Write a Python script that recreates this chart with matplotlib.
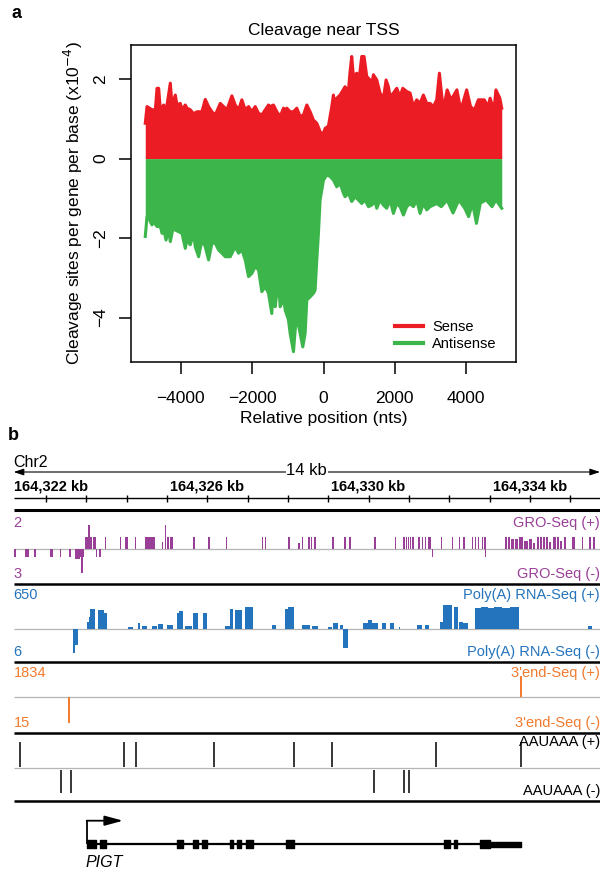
import numpy as np
import matplotlib
matplotlib.use('Agg')
import matplotlib.pyplot as plt
from matplotlib.lines import Line2D

plt.rcParams['font.family'] = ['Liberation Sans', 'DejaVu Sans']

## Panel a: cleavage sites per gene per base (x1e-4) around the TSS
sense_pos = [-5000, -4951, -4811, -4717, -4670, -4624, -4577, -4484, -4437, -4390,
             -4297, -4250, -4157, -4110, -4017, -3970, -3877, -3830, -3737, -3643,
             -3550, -3410, -3317, -3223, -3130, -3036, -2896, -2803, -2710, -2570,
             -2476, -2383, -2290, -2196, -2103, -2010, -1916, -1823, -1730, -1543,
             -1496, -1403, -1309, -1216, -1122, -1076, -1029, -936, -842, -749,
             -655, -562, -468, -375, -282, -188, -95, -20, 45, 138,
             232, 278, 325, 372, 465, 605, 698, 745, 792, 838,
             932, 1007, 1072, 1138, 1213, 1307, 1353, 1400, 1494, 1587,
             1681, 1756, 1821, 1868, 1961, 2055, 2148, 2223, 2335, 2429,
             2522, 2615, 2709, 2802, 2896, 2989, 3083, 3176, 3251, 3360,
             3469, 3578, 3742, 3851, 4016, 4125, 4235, 4344, 4509, 4618,
             4673, 4782, 4837, 4947, 5000]
sense_val = [0.89, 1.31, 1.23, 1.23, 1.77, 1.77, 1.23, 1.35, 1.23, 1.35,
             1.90, 1.35, 1.60, 1.35, 1.39, 1.23, 1.35, 1.27, 1.23, 1.13,
             1.18, 1.18, 1.49, 1.31, 1.18, 1.10, 1.39, 1.31, 1.23, 1.58,
             1.35, 1.23, 1.48, 1.23, 1.31, 1.18, 1.31, 1.14, 1.10, 1.35,
             1.31, 1.35, 1.18, 1.06, 1.27, 1.23, 1.27, 1.18, 1.18, 1.27,
             1.06, 1.10, 1.35, 1.18, 0.97, 0.89, 0.68, 0.60, 0.76, 0.82,
             1.31, 1.60, 1.31, 1.52, 1.60, 1.81, 1.69, 2.19, 2.57, 2.07,
             2.15, 2.07, 2.57, 2.57, 2.07, 1.98, 1.86, 2.11, 1.98, 1.65,
             1.52, 1.98, 1.81, 1.56, 1.65, 1.77, 1.56, 1.77, 1.69, 1.65,
             1.31, 1.48, 1.39, 1.60, 1.39, 1.39, 1.31, 1.48, 2.15, 1.22,
             1.73, 1.48, 1.73, 1.22, 1.73, 1.31, 1.22, 1.48, 1.48, 1.31,
             1.52, 1.22, 1.73, 1.52, 1.27]

anti_pos = [-5000, -4951, -4904, -4857, -4811, -4764, -4670, -4577, -4530, -4456,
            -4418, -4344, -4297, -4204, -4157, -4063, -3970, -3877, -3830, -3737,
            -3643, -3597, -3503, -3410, -3317, -3223, -3130, -3036, -2943, -2850,
            -2756, -2616, -2476, -2383, -2290, -2196, -2103, -2010, -1916, -1823,
            -1730, -1636, -1543, -1450, -1403, -1356, -1309, -1263, -1216, -1169,
            -1122, -1076, -982, -936, -842, -795, -749, -655, -581, -515,
            -468, -375, -282, -235, -188, -142, -95, 0, 93, 185,
            278, 372, 465, 558, 605, 698, 792, 885, 978, 1072,
            1166, 1260, 1353, 1447, 1494, 1587, 1681, 1774, 1868, 1961,
            2055, 2148, 2242, 2335, 2429, 2522, 2615, 2709, 2802, 2896,
            2989, 3176, 3305, 3469, 3633, 3798, 3962, 4071, 4181, 4290,
            4400, 4564, 4728, 4837, 5000]
anti_val = [-1.96, -1.46, -1.46, -1.59, -1.67, -1.59, -1.71, -1.71, -1.88, -1.88,
            -2.05, -1.80, -2.09, -1.67, -1.80, -1.84, -1.88, -2.26, -2.05, -2.17,
            -1.88, -2.22, -2.47, -2.05, -2.22, -2.55, -2.13, -2.13, -2.30, -2.38,
            -2.47, -2.47, -2.22, -2.38, -2.30, -2.55, -2.97, -2.89, -2.72, -2.80,
            -3.35, -3.22, -3.39, -3.90, -3.06, -3.73, -3.39, -3.06, -3.73, -3.64,
            -3.48, -3.81, -4.06, -4.40, -4.86, -4.32, -3.98, -4.40, -4.74, -4.40,
            -3.56, -3.48, -3.39, -3.31, -2.55, -1.88, -1.04, -0.54, -0.41, -0.45,
            -0.54, -0.71, -0.62, -0.87, -0.96, -0.87, -1.08, -0.96, -1.04, -1.13,
            -1.04, -1.21, -1.17, -1.08, -1.25, -1.04, -1.17, -1.25, -1.04, -1.38,
            -1.13, -1.21, -1.42, -1.21, -1.13, -1.21, -1.04, -1.38, -1.13, -1.29,
            -1.21, -1.13, -1.21, -1.04, -1.37, -1.04, -1.25, -1.46, -1.12, -1.63,
            -1.12, -1.04, -1.21, -1.04, -1.25]

## Panel b: browser view of PIGT on chr2 (bp)
ruler_ticks = list(range(164322000, 164336000, 1000))
ruler_labels = [164322000, 164326000, 164330000, 164334000]

gro_plus_start = [164322967, 164323050, 164323156, 164323461, 164323833, 164323957, 164324205,
                  164324453, 164324867, 164324949, 164324998, 164325070, 164325651, 164326023,
                  164326462, 164327355, 164327420, 164328007, 164328255, 164328339, 164328503,
                  164328570, 164328652, 164329098, 164329396, 164329520, 164330140, 164330653,
                  164330859, 164330919, 164330968, 164331025, 164331082, 164331231, 164331315,
                  164331397, 164331479, 164331787, 164332060, 164332241, 164332347, 164332556,
                  164332637, 164332704, 164332803, 164332868,
                  164333382, 164333456, 164333530, 164333629, 164333729, 164333853, 164333977,
                  164334076, 164334175, 164334250, 164334324, 164334399, 164334473, 164334572,
                  164334671, 164334746, 164334845, 164335043, 164335292, 164335465, 164335564]
gro_plus_end = [164323131, 164323080, 164323238, 164323496, 164323868, 164324039, 164324240,
                164324701, 164324902, 164324984, 164325050, 164325147, 164325686, 164326058,
                164326497, 164327390, 164327455, 164328042, 164328290, 164328374, 164328538,
                164328605, 164328687, 164329133, 164329431, 164329555, 164330175, 164330688,
                164330894, 164330954, 164331003, 164331060, 164331117, 164331266, 164331350,
                164331432, 164331546, 164331822, 164332095, 164332276, 164332382, 164332591,
                164332672, 164332739, 164332838, 164332903,
                164333431, 164333506, 164333605, 164333704, 164333828, 164333952, 164334051,
                164334126, 164334225, 164334299, 164334374, 164334448, 164334522, 164334646,
                164334721, 164334795, 164334895, 164335118, 164335328, 164335514, 164335614]
gro_plus_val = [1, 2, 1, 1, 1, 1, 1,
                1, 0.6, 2, 1, 1, 1, 1,
                1, 1, 1, 1, 0.5, 1, 1,
                1, 1, 1, 1, 1, 1, 1,
                1, 1, 1, 1, 1, 1, 1,
                1, 1, 1, 1, 1, 1, 1,
                1, 1, 1, 1,
                1, 1, 0.8, 0.8, 1, 0.7, 0.8,
                0.5, 1, 1, 1, 1, 0.6, 1,
                1, 0.7, 1, 1, 1, 1, 1]
gro_minus_start = [164321210, 164321477, 164321700, 164322097, 164322345, 164322575, 164322717,
                   164322841, 164322870, 164323238, 164323319, 164331563, 164332885]
gro_minus_end = [164321245, 164321583, 164321750, 164322164, 164322380, 164322610, 164322841,
                 164322940, 164322905, 164323273, 164323354, 164331598, 164332920]
gro_minus_val = [-1, -1, -1, -1, -1, -1, -1.2, -1, -3, -1, -1, -1, -1]

polya_plus_start = [164323022, 164323064, 164323101, 164323295, 164323436, 164324039, 164324272,
                    164324371, 164324619, 164324783, 164324991, 164325239, 164325296, 164325445,
                    164325636, 164325884, 164326437, 164326561, 164326685, 164326933, 164327595,
                    164327925, 164328007, 164328339, 164328602, 164328984, 164329123, 164329289,
                    164329867, 164329991, 164330090, 164330323, 164330529, 164330752, 164331206,
                    164331397, 164331769, 164331851, 164332124, 164332241, 164332340, 164332637,
                    164332800, 164332950, 164333100, 164333300, 164333500, 164335440]
polya_plus_end = [164323064, 164323101, 164323220, 164323436, 164323518, 164324163, 164324329,
                  164324495, 164324743, 164324907, 164325140, 164325296, 164325403, 164325611,
                  164325775, 164325998, 164326561, 164326628, 164326851, 164327124, 164327694,
                  164328007, 164328156, 164328545, 164328751, 164329083, 164329247, 164329371,
                  164329991, 164330075, 164330224, 164330423, 164330636, 164330780, 164331315,
                  164331497, 164331851, 164332060, 164332223, 164332340, 164332471, 164332800,
                  164332950, 164333100, 164333300, 164333500, 164333741, 164335539]
polya_plus_val = [208, 343, 542, 524, 451, 54, 181,
                  90, 90, 135, 117, 434, 506, 90,
                  451, 451, 90, 542, 524, 596, 117,
                  542, 614, 117, 99, 72, 162, 117,
                  162, 253, 162, 162, 162, 54, 126,
                  126, 208, 650, 596, 208, 162, 580,
                  610, 590, 600, 585, 595, 90]
polya_minus_start = [164322660, 164322717, 164329371]
polya_minus_end = [164322717, 164322800, 164329480]
polya_minus_val = [-6, -4, -4.75]

end3_plus_pos = [164333791]
end3_plus_val = [1834]
end3_minus_pos = [164322580]
end3_minus_val = [-15]

aauaaa_plus = [164321360, 164323927, 164324227, 164326164, 164328142, 164329101, 164331668, 164333771]
aauaaa_minus = [164322377, 164322610, 164330127, 164330884, 164330991]

pigt_tx = [164323022, 164333791]
pigt_exon_start = [164323007, 164323327, 164325246, 164325653, 164325874, 164326554,
                   164326747, 164326958, 164327957, 164331871, 164332114, 164332774]
pigt_exon_end = [164323230, 164323493, 164325390, 164325767, 164325991, 164326640,
                 164326844, 164327124, 164328142, 164332017, 164332191, 164333014]
pigt_utr = [164333014, 164333791]

RED = '#ec1c24'
GREEN = '#3cb54a'
PURPLE = '#9a3f98'
BLUE = '#2474bd'
ORANGE = '#f37a2e'
GREY = '#b5b5b5'

W, H = 612.0, 876.0
def px_rect(x0, y0, x1, y1):
    return [x0 / W, 1 - y1 / H, (x1 - x0) / W, (y1 - y0) / H]

fig = plt.figure(figsize=(6.12, 8.76), dpi=100)

# ---- panel a
ax = fig.add_axes(px_rect(131, 45, 516, 362))
ax.fill_between(sense_pos, 0, sense_val, color=RED, lw=0)
ax.plot(sense_pos, sense_val, color=RED, lw=2.2)
ax.fill_between(anti_pos, 0, anti_val, color=GREEN, lw=0)
ax.plot(anti_pos, anti_val, color=GREEN, lw=2.2)
ax.set_xlim(-5400, 5400)
ax.set_ylim(-5.12, 2.86)
ax.set_xticks([-4000, -2000, 0, 2000, 4000])
ax.set_yticks([-4, -2, 0, 2])
for s in ax.spines.values():
    s.set_linewidth(1.1)
ax.tick_params(axis='x', length=8.6, width=1.1, pad=12, labelsize=12.5)
ax.tick_params(axis='y', length=8.6, width=1.1, pad=8, labelsize=12.5)
for lbl in ax.get_yticklabels():
    lbl.set_rotation(90)
    lbl.set_va('center')
ax.set_title('Cleavage near TSS', fontsize=12.5, pad=7)
ax.set_xlabel('Relative position (nts)', fontsize=12.5)
ax.xaxis.set_label_coords(0.5, -0.155)
ax.set_ylabel(r'Cleavage sites per gene per base (x10$^{-4}$)', fontsize=12.5)
ax.yaxis.set_label_coords(-0.12, 0.5)
handles = [Line2D([], [], color=RED, lw=3), Line2D([], [], color=GREEN, lw=3)]
ax.legend(handles, ['Sense', 'Antisense'], loc='lower right', frameon=False,
          bbox_to_anchor=(0.965, 0.015), borderaxespad=0, fontsize=10.5,
          handlelength=1.9, handletextpad=0.65, labelspacing=0.2)

fig.text(11 / W, 1 - 13 / H, 'a', fontsize=13, weight='bold', va='center')
fig.text(8 / W, 1 - 435 / H, 'b', fontsize=13, weight='bold', va='center')

# ---- panel b
KB_LO, KB_HI = 164321196, 164335740
bax = fig.add_axes(px_rect(13.7, 440, 600, 876))
bax.set_xlim(KB_LO, KB_HI)
bax.set_ylim(876, 440)
bax.axis('off')
tr = bax.get_yaxis_transform()

bax.annotate('', xy=(KB_HI, 472), xytext=(KB_LO, 472),
             arrowprops=dict(arrowstyle='<|-|>,head_length=0.6,head_width=0.2', mutation_scale=10,
                             lw=0.8, color='black', shrinkA=0, shrinkB=0))
bax.text(0.5, 471, '14 kb', transform=tr, ha='center', va='center', fontsize=12,
         bbox=dict(facecolor='white', edgecolor='none', pad=0.3))
bax.text(0, 463, 'Chr2', transform=tr, ha='left', va='center', fontsize=11.5)
bax.hlines(498.3, KB_LO, KB_HI, lw=1, color='black')
bax.vlines(ruler_ticks, 495, 501.7, lw=1, color='black')
for i, bp in enumerate(ruler_labels):
    lab = '{:,} kb'.format(bp // 1000)
    if i == 0:
        bax.text(KB_LO, 486.7, lab, ha='left', va='center', fontsize=10.5, weight='bold')
    else:
        bax.text(bp, 486.7, lab, ha='center', va='center', fontsize=10.5, weight='bold')

bax.hlines([510.5], KB_LO, KB_HI, lw=2.2, color='black')
bax.hlines([584.3, 662.3, 732.7, 801], KB_LO, KB_HI, lw=1.8, color='black')
bax.hlines([549, 629.3, 697, 768.3], KB_LO, KB_HI, lw=0.9, color=GREY)

def signal_axes(y0, y1, lo, hi):
    a = fig.add_axes(px_rect(13.7, y0, 600, y1))
    a.set_xlim(KB_LO, KB_HI)
    a.set_ylim(lo, hi)
    a.axis('off')
    a.patch.set_alpha(0)
    return a

def bars(a, start, end, val, color):
    a.bar(start, val, width=np.subtract(end, start), align='edge', color=color, lw=0)

# GRO-Seq
a = signal_axes(525, 549, 0, 2)
bars(a, gro_plus_start, gro_plus_end, gro_plus_val, PURPLE)
a = signal_axes(549, 573, -3, 0)
bars(a, gro_minus_start, gro_minus_end, gro_minus_val, PURPLE)
# Poly(A) RNA-Seq
a = signal_axes(605.3, 629.3, 0, 650)
bars(a, polya_plus_start, polya_plus_end, polya_plus_val, BLUE)
a = signal_axes(629.3, 653.3, -6, 0)
bars(a, polya_minus_start, polya_minus_end, polya_minus_val, BLUE)
# 3'end-Seq
a = signal_axes(676, 697, 0, 1834)
a.vlines(end3_plus_pos, 0, end3_plus_val, color=ORANGE, lw=1.4)
a = signal_axes(697, 723, -15, 0)
a.vlines(end3_minus_pos, 0, end3_minus_val, color=ORANGE, lw=1.4)

track_text = [(523, '2', 'GRO-Seq (+)', PURPLE), (574.5, '3', 'GRO-Seq (-)', PURPLE),
              (595.3, '650', 'Poly(A) RNA-Seq (+)', BLUE), (652, '6', 'Poly(A) RNA-Seq (-)', BLUE),
              (673.5, '1834', "3'end-Seq (+)", ORANGE), (723, '15', "3'end-Seq (-)", ORANGE)]
for y, left, right, c in track_text:
    bax.text(0, y, left, transform=tr, ha='left', va='center', fontsize=10.5, color=c)
    bax.text(1, y, right, transform=tr, ha='right', va='center', fontsize=10.5, color=c)

# AAUAAA motifs
bax.vlines(aauaaa_plus, 741.7, 767.3, lw=1.1, color='black')
bax.vlines(aauaaa_minus, 770, 793.3, lw=1.1, color='black')
bax.text(1, 742, 'AAUAAA (+)', transform=tr, ha='right', va='center', fontsize=10.5)
bax.text(1, 791, 'AAUAAA (-)', transform=tr, ha='right', va='center', fontsize=10.5)

# PIGT gene model
bax.hlines(844, pigt_tx[0], pigt_tx[1], lw=1.6, color='black')
bax.broken_barh(list(zip(pigt_exon_start, np.subtract(pigt_exon_end, pigt_exon_start))),
                (840, 8.3), color='black')
bax.broken_barh([(pigt_utr[0], pigt_utr[1] - pigt_utr[0])], (841.6, 5.8), color='black')
bax.vlines(pigt_tx[0], 820.7, 844, lw=1.3, color='black')
bax.annotate('', xy=(pigt_tx[0] + 885, 820.7), xytext=(pigt_tx[0] - 15, 820.7),
             arrowprops=dict(arrowstyle='-|>,head_length=1.1,head_width=0.3', mutation_scale=10,
                             lw=1.3, color='black', shrinkA=0, shrinkB=0))
bax.text(pigt_tx[0] - 40, 863, 'PIGT', ha='left', va='center', fontsize=11.5, style='italic')

plt.savefig('out.png', dpi=100)
